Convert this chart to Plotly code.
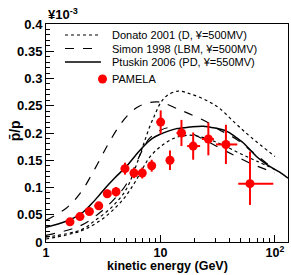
import numpy as np
import plotly.graph_objects as go

# ---------------- data ----------------
# PAMELA antiproton/proton ratio (x10^-3)
pam_E = [1.62, 1.98, 2.39, 2.89, 3.43, 4.09, 4.90, 5.87, 6.93, 8.38, 10.04, 12.1, 15.25, 19.3, 26.2, 37.3, 60.5]
pam_lo = [1.5, 1.8, 2.2, 2.65, 3.15, 3.8, 4.5, 5.4, 6.4, 7.8, 9.25, 11.2, 13.8, 17.1, 23.0, 30.5, 47.8]
pam_hi = [1.75, 2.15, 2.6, 3.1, 3.7, 4.4, 5.3, 6.3, 7.5, 9.0, 10.95, 13.1, 16.7, 22.2, 29.3, 46.9, 96.7]
pam_r = [0.037, 0.0466, 0.0559, 0.0664, 0.0885, 0.0922, 0.1346, 0.1266, 0.1266, 0.140, 0.220, 0.150, 0.200, 0.176, 0.189, 0.179, 0.107]
pam_eup = [0.004, 0.004, 0.005, 0.006, 0.0075, 0.0087, 0.011, 0.0095, 0.010, 0.011, 0.0215, 0.018, 0.024, 0.025, 0.030, 0.036, 0.059]
pam_edn = [0.004, 0.004, 0.005, 0.006, 0.0075, 0.0087, 0.011, 0.0095, 0.010, 0.011, 0.0215, 0.018, 0.024, 0.025, 0.030, 0.036, 0.039]

# Donato 2001 (dotted, upper and lower)
don_up_E = [1, 2, 2.7, 3.8, 5, 6, 7, 8, 9, 10, 11.3, 14.3, 18, 24, 32, 45, 62, 100]
don_up_r = [0.009, 0.022, 0.040, 0.065, 0.096, 0.135, 0.175, 0.21, 0.235, 0.255, 0.268, 0.277, 0.272, 0.262, 0.247, 0.218, 0.192, 0.157]
don_lo_E = [1, 2, 3, 4, 5, 6, 7, 8, 10, 13, 18, 25, 35, 50, 70, 100]
don_lo_r = [0.0055, 0.020, 0.040, 0.062, 0.085, 0.110, 0.135, 0.155, 0.175, 0.190, 0.196, 0.190, 0.178, 0.162, 0.148, 0.133]

# Simon 1998 (dashed, upper and lower)
sim_up_E = [1, 1.5, 2, 2.7, 3.5, 4.5, 5.5, 6.5, 8, 9.5, 11, 13.5, 17.5, 24.5, 32, 45, 63, 100]
sim_up_r = [0.040, 0.062, 0.090, 0.136, 0.180, 0.217, 0.238, 0.249, 0.256, 0.257, 0.254, 0.246, 0.236, 0.222, 0.207, 0.190, 0.166, 0.132]
sim_lo_E = [1, 2, 3, 4, 5, 6, 7, 8, 10, 12, 16, 23, 32, 45, 63, 100]
sim_lo_r = [0.012, 0.030, 0.055, 0.080, 0.105, 0.140, 0.170, 0.190, 0.205, 0.210, 0.205, 0.190, 0.174, 0.158, 0.143, 0.127]

# Ptuskin 2006 (solid)
ptu_E = [1, 1.5, 2, 2.5, 3, 3.5, 4, 5, 6, 7, 8.5, 10, 11.5, 13.8, 18, 23.6, 30, 38, 45, 52.8, 60, 69, 85, 110, 130]
ptu_r = [0.027, 0.038, 0.051, 0.070, 0.089, 0.105, 0.118, 0.138, 0.158, 0.174, 0.190, 0.198, 0.203, 0.208, 0.211, 0.2125, 0.209, 0.203, 0.193, 0.182, 0.170, 0.157, 0.142, 0.128, 0.117]

y_ticks = [0, 0.05, 0.1, 0.15, 0.2, 0.25, 0.3, 0.35, 0.4]
y_ticktext = ["0", "0.05", "0.1", "0.15", "0.2", "0.25", "0.3", "0.35", "0.4"]
x_ticks = [1, 10, 100]
x_ticktext = ["1", "10", "10<sup>2</sup>"]
x_minor = [2, 3, 4, 5, 6, 7, 8, 9, 20, 30, 40, 50, 60, 70, 80, 90]

legend_names = ["Donato 2001 (D, \u00a5=500MV)", "Simon 1998 (LBM, \u00a5=500MV)",
                "Ptuskin 2006 (PD, \u00a5=550MV)", "PAMELA"]
x_title = "kinetic energy (GeV)"
y_title = "p\u0304/p"
y_scale = "\u00a510<sup>-3</sup>"

FONT = "Liberation Sans, Arial, Helvetica, sans-serif"
RED = "#ff0000"

fig = go.Figure()
lw = 1.2
fig.add_trace(go.Scatter(x=don_up_E, y=don_up_r, mode="lines", name=legend_names[0],
                         line=dict(color="black", width=lw, dash="dot", shape="spline")))
fig.add_trace(go.Scatter(x=don_lo_E, y=don_lo_r, mode="lines", name=legend_names[0],
                         line=dict(color="black", width=lw, dash="dot", shape="spline")))
fig.add_trace(go.Scatter(x=sim_up_E, y=sim_up_r, mode="lines", name=legend_names[1],
                         line=dict(color="black", width=lw, dash="dash", shape="spline")))
fig.add_trace(go.Scatter(x=sim_lo_E, y=sim_lo_r, mode="lines", name=legend_names[1],
                         line=dict(color="black", width=lw, dash="dash", shape="spline")))
fig.add_trace(go.Scatter(x=ptu_E, y=ptu_r, mode="lines", name=legend_names[2],
                         line=dict(color="black", width=1.5, shape="spline")))

E = np.array(pam_E)
fig.add_trace(go.Scatter(
    x=pam_E, y=pam_r, mode="markers", name=legend_names[3],
    marker=dict(color=RED, size=9, symbol="circle"),
    error_x=dict(type="data", symmetric=False, array=list(np.array(pam_hi) - E),
                 arrayminus=list(E - np.array(pam_lo)), color=RED, thickness=2, width=0),
    error_y=dict(type="data", symmetric=False, array=pam_eup, arrayminus=pam_edn,
                 color=RED, thickness=2, width=0),
))

fig.update_layout(
    width=291, height=275,
    margin=dict(l=46, r=3, t=24, b=33),
    paper_bgcolor="white", plot_bgcolor="white",
    font=dict(family=FONT, color="black"),
    showlegend=False,
)

fig.update_xaxes(
    type="log", range=[0, np.log10(130)],
    tickvals=x_ticks, ticktext=x_ticktext,
    ticks="inside", ticklen=7, tickwidth=1, tickcolor="black",
    minor=dict(tickvals=x_minor, ticks="inside", ticklen=4, tickcolor="black", showgrid=False),
    showline=True, linecolor="black", linewidth=1, mirror=True,
    showgrid=False, zeroline=False,
    tickfont=dict(size=12.5, family=FONT, weight="bold"),
    ticklabelstandoff=-1,
)
fig.update_yaxes(
    range=[0, 0.4],
    tickvals=y_ticks, ticktext=y_ticktext,
    ticks="inside", ticklen=8, tickwidth=1, tickcolor="black",
    minor=dict(dtick=0.01, ticks="inside", ticklen=4, tickcolor="black", showgrid=False),
    showline=True, linecolor="black", linewidth=1, mirror=True,
    showgrid=False, zeroline=False,
    tickfont=dict(size=13, family=FONT, weight="bold"),
)

fig.add_annotation(text=y_scale, xref="paper", yref="paper", x=0.0, y=1.0,
                   xanchor="left", yanchor="bottom", showarrow=False,
                   font=dict(size=13, family=FONT, weight="bold"))
fig.add_annotation(text=y_title, xref="paper", yref="paper", x=-0.13, y=0.51,
                   xanchor="center", yanchor="middle", showarrow=False, textangle=-90,
                   font=dict(size=14, family=FONT, weight="bold"))
fig.add_annotation(text=x_title, xref="paper", yref="paper", x=0.5, y=-0.112,
                   xanchor="center", yanchor="middle", showarrow=False,
                   font=dict(size=12.5, family=FONT, weight="bold"))

# ---- hand-drawn legend (ROOT style) ----
leg_y = [0.9495, 0.8876, 0.8257, 0.7477]
leg_dash = ["dot", "dash", "solid"]
leg_w = [lw, lw, 1.5]
x0, x1, xt = 0.0785, 0.227, 0.2645
for i in range(3):
    fig.add_shape(type="line", xref="paper", yref="paper", x0=x0, x1=x1, y0=leg_y[i], y1=leg_y[i],
                  line=dict(color="black", width=leg_w[i], dash=leg_dash[i]))
mx, rx, ry = 0.2335, 4.5 / 242, 4.5 / 218
fig.add_shape(type="circle", xref="paper", yref="paper",
              x0=mx - rx, x1=mx + rx, y0=leg_y[3] - ry, y1=leg_y[3] + ry,
              fillcolor=RED, line=dict(color=RED, width=0))
for i, name in enumerate(legend_names):
    fig.add_annotation(text=name, xref="paper", yref="paper", x=xt, y=leg_y[i],
                       xanchor="left", yanchor="middle", showarrow=False,
                       font=dict(size=11, family=FONT))

fig.write_html("out.html", config={"displayModeBar": False},
               post_script="document.body.style.margin='0';")
